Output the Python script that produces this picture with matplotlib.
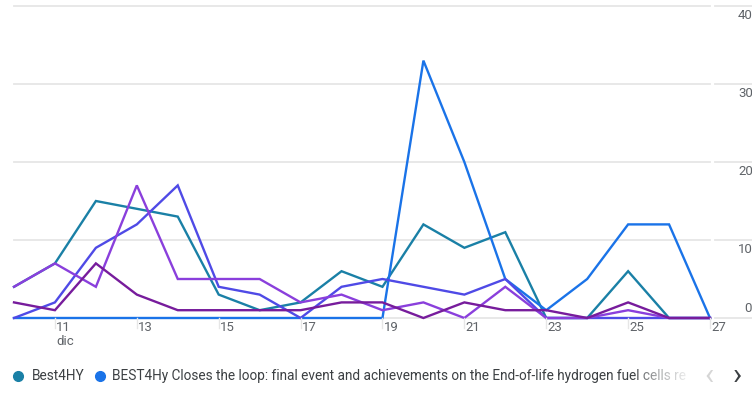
import matplotlib
matplotlib.use("Agg")
import matplotlib.pyplot as plt
from matplotlib.lines import Line2D
import numpy as np

plt.rcParams['font.family'] = ['Roboto', 'DejaVu Sans']

days = list(range(10, 28))
best4hy = [4, 7, 15, 14, 13, 3, 1, 2, 6, 4, 12, 9, 11, 0, 0, 6, 0, 0]
closes_loop = [0, 0, 0, 0, 0, 0, 0, 0, 0, 0, 33, 20, 5, 1, 5, 12, 12, 0]
series_c = [0, 2, 9, 12, 17, 4, 3, 0, 4, 5, 4, 3, 5, 0, 0, 0, 0, 0]
series_d = [4, 7, 4, 17, 5, 5, 5, 2, 3, 1, 2, 0, 4, 0, 0, 1, 0, 0]
series_e = [2, 1, 7, 3, 1, 1, 1, 1, 2, 2, 0, 2, 1, 1, 0, 2, 0, 0]

x_ticks = [11, 13, 15, 17, 19, 21, 23, 25, 27]
y_ticks = [0, 10, 20, 30, 40]
month_label = "dic"
legend_labels = ["Best4HY",
                 "BEST4Hy Closes the loop: final event and achievements on the End-of-life hydrogen fuel cells re"]

colors = ['#1a80a6', '#1a73e8', '#4f4ae6', '#8a3fdc', '#771c9c']

W, H = 752, 412
fig = plt.figure(figsize=(W / 100, H / 100), dpi=100)
fig.patch.set_facecolor('white')

ax_l, ax_r, ax_t, ax_b = 14, 710, 6, 318
ax = fig.add_axes([ax_l / W, 1 - ax_b / H, (ax_r - ax_l) / W, (ax_b - ax_t) / H])
ax.set_xlim(10, 27)
ax.set_ylim(0, 40)
ax.set_facecolor('none')
for s in ax.spines.values():
    s.set_visible(False)
ax.set_xticks([])
ax.set_yticks([])

grid_c = '#e6e6e6'
for v in y_ticks:
    ax.axhline(v, color=grid_c, lw=1.3, zorder=0, clip_on=False)
    yf = ax.transData.transform((0, v))[1] / H
    fig.add_artist(Line2D([715 / W, 1.0], [yf, yf], color=grid_c, lw=1.3,
                          transform=fig.transFigure, zorder=0))

for y, c in zip([best4hy, closes_loop, series_c, series_d, series_e], colors):
    ax.plot(days, y, color=c, lw=1.7, solid_joinstyle='miter', clip_on=False, zorder=3)

txt_c = '#5f6368'
for t in x_ticks:
    xf = ax.transData.transform((t, 0))[0] / W
    fig.add_artist(Line2D([xf, xf], [1 - ax_b / H, 1 - 328 / H], color=grid_c, lw=1.0,
                          transform=fig.transFigure))
    fig.text(xf + 1 / W, 1 - 321 / H, str(t), ha='left', va='top', fontsize=9.5, color=txt_c)
x11 = ax.transData.transform((11, 0))[0] / W
fig.text(x11 + 1 / W, 1 - 335 / H, month_label, ha='left', va='top', fontsize=9.5, color=txt_c)

for v in y_ticks:
    yf = ax.transData.transform((0, v))[1] / H
    if v == 0:
        fig.text(752 / W, yf + 3 / H, str(v), ha='right', va='bottom', fontsize=9.5, color=txt_c)
    else:
        fig.text(753 / W, yf - 3 / H, str(v), ha='right', va='top', fontsize=9.5, color=txt_c)

leg_y = 1 - 376 / H
fig.add_artist(Line2D([18 / W], [leg_y], marker='o', markersize=7, color=colors[0],
                      transform=fig.transFigure, lw=0))
fig.text(32 / W, leg_y, legend_labels[0], ha='left', va='center', fontsize=9.8, color='#3c4043')
fig.add_artist(Line2D([100 / W], [leg_y], marker='o', markersize=7, color=colors[1],
                      transform=fig.transFigure, lw=0))
fig.text(112 / W, leg_y, legend_labels[1], ha='left', va='center', fontsize=9.8, color='#3c4043')

# fade-out overlay for truncated legend text
fade_ax = fig.add_axes([636 / W, 1 - 390 / H, 54 / W, 28 / H])
grad = np.ones((2, 100, 4))
grad[..., 3] = np.linspace(0, 0.9, 100)[None, :] ** 0.6
fade_ax.imshow(grad, aspect='auto', extent=[0, 1, 0, 1])
fade_ax.axis('off')
fade_ax.set_zorder(10)
cover = fig.add_axes([690 / W, 1 - 390 / H, 62 / W, 28 / H])
cover.set_facecolor('white')
cover.set_xticks([]); cover.set_yticks([])
for s in cover.spines.values():
    s.set_visible(False)
cover.set_zorder(10)

fig.text(709 / W, leg_y + 1 / H, '\u2039', ha='center', va='center', fontsize=22,
         color='#d6d6d6', zorder=20)
fig.text(737 / W, leg_y + 1 / H, '\u203a', ha='center', va='center', fontsize=22,
         color='#3c4043', zorder=20)

fig.savefig('out.png', dpi=100, facecolor='white')
